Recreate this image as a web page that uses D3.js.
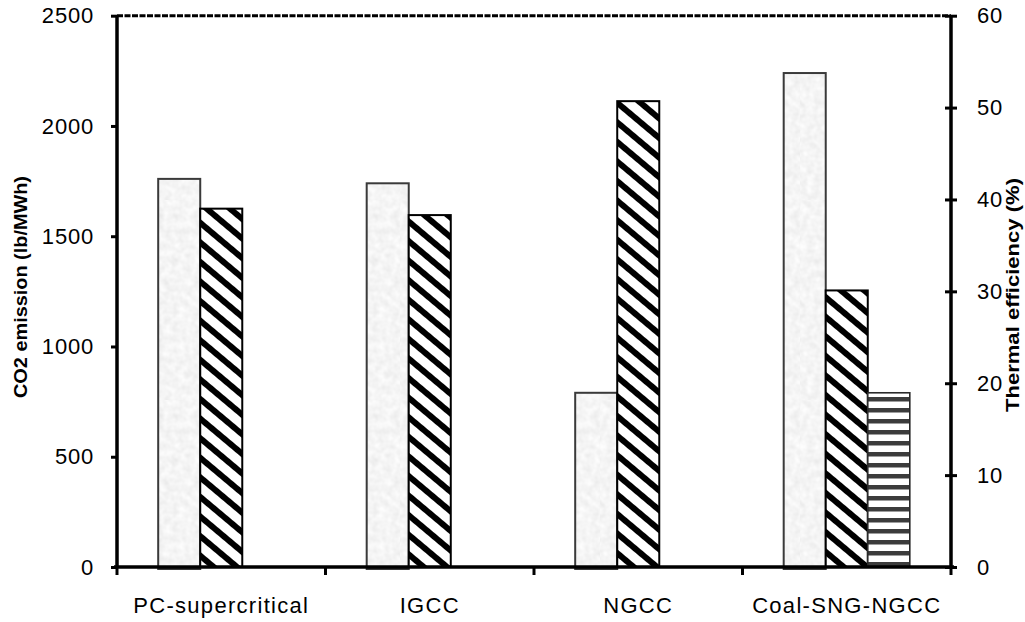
<!DOCTYPE html>
<html><head><meta charset="utf-8">
<script src="https://cdn.jsdelivr.net/npm/d3@7"></script>
<style>
html,body{margin:0;padding:0;background:#fff;}
svg{display:block;}
text{font-family:"Liberation Sans",Arial,sans-serif;fill:#000;}
</style></head>
<body>
<svg id="chart" width="1025" height="622"></svg>
<script>
// ---- data ----
const categories = ["PC-supercritical", "IGCC", "NGCC", "Coal-SNG-NGCC"];
const co2Emission = [1760, 1740, 790, 2240];          // left axis (lb/MWh)
const thermalEfficiency = [39.0, 38.3, 50.7, 30.1];   // right axis (%)
const co2Extra = [null, null, null, 790];             // horizontal-striped bar, left axis
const leftTicks = [0, 500, 1000, 1500, 2000, 2500];
const rightTicks = [0, 10, 20, 30, 40, 50, 60];
const seriesKeys = ["co2", "eff", "extra"];

const svg = d3.select("#chart");
const L = 117, R = 951, T = 15.7, B = 567;

const defs = svg.append("defs");
// mottled light-grey texture
const f = defs.append("filter").attr("id", "noise").attr("x", 0).attr("y", 0).attr("width", 1).attr("height", 1);
f.append("feTurbulence").attr("type", "fractalNoise").attr("baseFrequency", 0.14).attr("numOctaves", 2).attr("seed", 3);
f.append("feColorMatrix").attr("type", "matrix")
  .attr("values", "0.22 0 0 0 0.80  0.22 0 0 0 0.80  0.22 0 0 0 0.80  0 0 0 0 1");
const pg = defs.append("pattern").attr("id", "grayTex").attr("patternUnits", "userSpaceOnUse")
  .attr("width", 200).attr("height", 200);
pg.append("rect").attr("width", 200).attr("height", 200).attr("fill", "#ececec");
pg.append("rect").attr("width", 200).attr("height", 200).attr("filter", "url(#noise)");

// diagonal hatch
const ph = defs.append("pattern").attr("id", "hatch").attr("patternUnits", "userSpaceOnUse")
  .attr("width", 15).attr("height", 15).attr("patternTransform", "rotate(-50)");
ph.append("rect").attr("width", 15).attr("height", 15).attr("fill", "#fff");
ph.append("rect").attr("width", 6).attr("height", 15).attr("fill", "#000");

// horizontal stripes
const ps = defs.append("pattern").attr("id", "hstripe").attr("patternUnits", "userSpaceOnUse")
  .attr("width", 10).attr("height", 11).attr("y", 392);
ps.append("rect").attr("width", 10).attr("height", 11).attr("fill", "#fff");
ps.append("rect").attr("y", 5).attr("width", 10).attr("height", 4.5).attr("fill", "#3c3c3c");

// ---- scales ----
const x0 = d3.scaleBand().domain(categories).range([L, R]).padding(0);
const x1 = d3.scaleBand().domain(seriesKeys).range([0, x0.bandwidth()]).paddingInner(0).paddingOuter(0.98);
const yL = d3.scaleLinear().domain([0, 2500]).range([B, T]);
const yR = d3.scaleLinear().domain([0, 60]).range([B, T]);

// ---- bars ----
const g = svg.append("g");
categories.forEach((c, i) => {
  const gx = x0(c);
  g.append("rect")
    .attr("x", gx + x1("co2")).attr("y", yL(co2Emission[i]))
    .attr("width", x1.bandwidth()).attr("height", yL(0) - yL(co2Emission[i]) + 2)
    .attr("fill", "url(#grayTex)").attr("stroke", "#3a3a3a").attr("stroke-width", 2);
  g.append("rect")
    .attr("x", gx + x1("eff")).attr("y", yR(thermalEfficiency[i]))
    .attr("width", x1.bandwidth()).attr("height", yR(0) - yR(thermalEfficiency[i]))
    .attr("fill", "url(#hatch)").attr("stroke", "#000").attr("stroke-width", 2);
  if (co2Extra[i] != null) {
    g.append("rect")
      .attr("x", gx + x1("extra")).attr("y", yL(co2Extra[i]))
      .attr("width", x1.bandwidth()).attr("height", yL(0) - yL(co2Extra[i]))
      .attr("fill", "url(#hstripe)").attr("stroke", "#2a2a2a").attr("stroke-width", 1.6);
  }
});

// ---- frame ----
svg.append("line").attr("x1", L).attr("x2", R).attr("y1", T).attr("y2", T)
  .attr("stroke", "#000").attr("stroke-width", 3).attr("stroke-dasharray", "6,1.5");

const axL = svg.append("g").attr("transform", `translate(${L},0)`)
  .call(d3.axisLeft(yL).tickValues(leftTicks).tickFormat(d3.format("d")).tickSize(6).tickPadding(17));
const axR = svg.append("g").attr("transform", `translate(${R},0)`)
  .call(d3.axisRight(yR).tickValues(rightTicks).tickFormat(d3.format("d")).tickSize(6).tickPadding(20));
axR.selectAll(".tick line").attr("x1", -6);
const axB = svg.append("g").attr("transform", `translate(0,${B})`)
  .call(d3.axisBottom(x0).tickSize(0).tickPadding(30));
const bounds = categories.map(c => x0(c)).concat([x0(categories[categories.length - 1]) + x0.bandwidth()]);
svg.append("g").selectAll("line").data(bounds).join("line")
  .attr("x1", d => d).attr("x2", d => d).attr("y1", B).attr("y2", B + 8)
  .attr("stroke", "#000").attr("stroke-width", 3);

[axL, axR, axB].forEach(a => {
  a.select(".domain").attr("stroke", "#000").attr("stroke-width", 3.5);
  a.selectAll(".tick line").attr("stroke", "#000").attr("stroke-width", 3);
  a.selectAll("text").attr("font-size", 22).attr("font-family", "Liberation Sans, Arial, sans-serif").attr("fill", "#000");
});
axL.select(".domain").attr("d", `M0,${T}V${B}`);
axR.select(".domain").attr("d", `M0,${T}V${B}`);
axB.select(".domain").attr("d", `M${L - 3},0H${R + 3}`);
axB.selectAll("text").attr("letter-spacing", 1.3);
axL.selectAll("text").attr("letter-spacing", 0.8);
axR.selectAll("text").attr("letter-spacing", 0.8);

// axis titles
svg.append("text").attr("transform", "translate(27,287) rotate(-90)")
  .attr("text-anchor", "middle").attr("font-weight", "bold").attr("font-size", 18)
  .attr("textLength", 222).attr("lengthAdjust", "spacingAndGlyphs")
  .text("CO2 emission (lb/MWh)");
svg.append("text").attr("transform", "translate(1019,295) rotate(-90)")
  .attr("text-anchor", "middle").attr("font-weight", "bold").attr("font-size", 18)
  .attr("textLength", 234).attr("lengthAdjust", "spacingAndGlyphs")
  .text("Thermal efficiency (%)");
</script>
</body></html>
